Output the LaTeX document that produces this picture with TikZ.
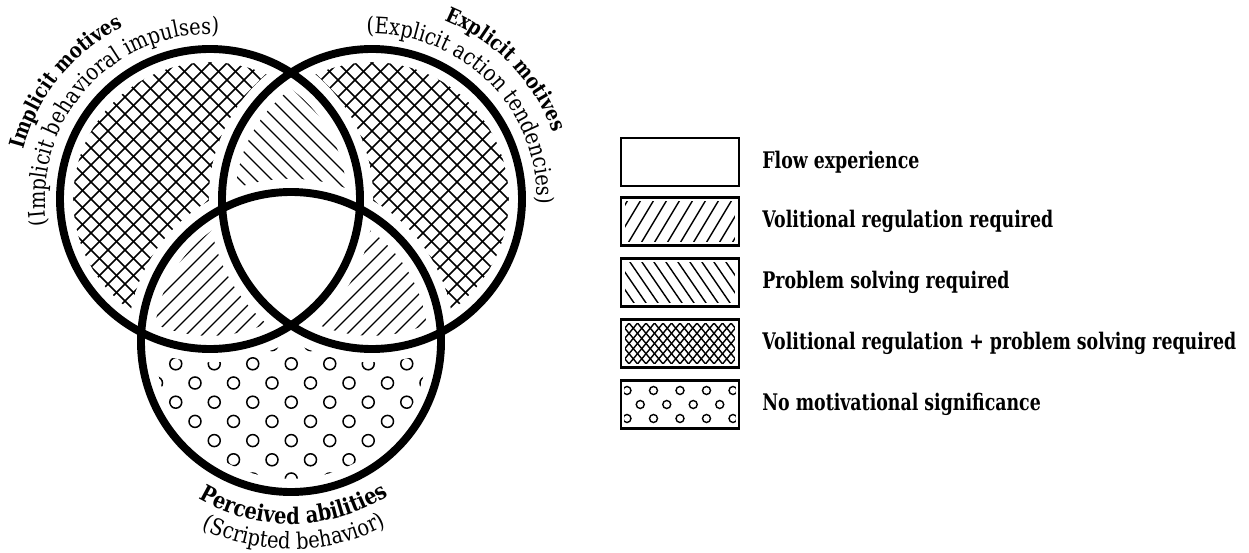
\documentclass[tikz,border=0pt]{standalone}
\usepackage{fontspec}
\setmainfont{DejaVu Serif}[FakeStretch=0.76]
\newfontfamily\arcfam{DejaVu Serif}[FakeStretch=0.85]
\usetikzlibrary{decorations.text}
\newcommand\lblfont{\fontsize{13pt}{15pt}\selectfont}
\newcommand\arclblfont{\arcfam\fontsize{13pt}{15pt}\selectfont}
\newcommand\arcsmallfont{\arcfam\fontsize{12pt}{14pt}\selectfont}
\begin{document}
\begin{tikzpicture}[x=0.02cm,y=0.02cm,
  vring/.style={line width=4.5pt},
  vinset/.style={white,line width=15pt},
  vhatch/.style={line width=0.95pt},
  vthin/.style={line width=0.8pt},
  vdot/.style={line width=0.85pt},
  legbox/.style={draw, line width=1.4pt, minimum width=2.36cm, minimum height=0.96cm, inner sep=0pt},
  legtext/.style={anchor=west, inner sep=0pt, font=\lblfont\bfseries},
  arctitle/.style={decorate, decoration={text along path, text align=center, text={|\arclblfont\bfseries|#1}}},
  arctitlesm/.style={decorate, decoration={text along path, text align=center, text={|\arcsmallfont\bfseries|#1}}},
  arcsub/.style={decorate, decoration={text along path, text align=center, text={|\arclblfont|#1}}}]

\fill[white] (0,0) rectangle (1249,552);
\useasboundingbox (0,0) rectangle (1249,552);

\coordinate (L) at (210,353);
\coordinate (R) at (372,353);
\coordinate (B) at (291,210);

% cross-hatch in left and right circles
\foreach \cc in {L,R}{
\begin{scope}
  \clip (\cc) circle [radius=150];
  \foreach \k in {-14,...,14}{
    \draw[vhatch] ([shift={(\k*17-220,-220)}]\cc) -- ++(440,440);
    \draw[vhatch] ([shift={(\k*17+220,-220)}]\cc) -- ++(-440,440);
  }
\end{scope}}

% top lens: problem solving (\)
\begin{scope}
  \clip (L) circle [radius=150];
  \clip (R) circle [radius=150];
  \fill[white] (0,0) rectangle (1249,552);
  \foreach \k in {-16,...,16}
    \draw[vthin] (291+\k*16-250, 353+250) -- ++(500,-500);
\end{scope}

% bottom circle: circles pattern
\begin{scope}
  \clip (B) circle [radius=150];
  \fill[white] (0,0) rectangle (1249,552);
  \foreach \k in {-3,...,7}{
    \pgfmathsetmacro\xo{195+mod(\k+10,2)*19.25}
    \pgfmathsetmacro\yy{552-383-19.2*\k}
    \foreach \m in {-3,...,9}
      \draw[vdot] (\xo+\m*38.5,\yy) circle [radius=6];
  }
\end{scope}

% bottom lenses: volitional regulation (/)
\foreach \cc in {L,R}{
\begin{scope}
  \clip (B) circle [radius=150];
  \clip (\cc) circle [radius=150];
  \fill[white] (0,0) rectangle (1249,552);
  \foreach \k in {-16,...,16}
    \draw[vthin] (291+\k*16-250, 210-250) -- ++(500,500);
\end{scope}}

% centre: flow
\begin{scope}
  \clip (B) circle [radius=150];
  \clip (L) circle [radius=150];
  \clip (R) circle [radius=150];
  \fill[white] (0,0) rectangle (1249,552);
\end{scope}

\foreach \cc in {L,R,B} \draw[vinset] (\cc) circle [radius=150];
\foreach \cc in {L,R,B} \draw[vring] (\cc) circle [radius=150];

% circle labels
\path[arcsub={(Implicit behavioral impulses)}] ([shift={(208:165)}]L) arc [start angle=208, end angle=68, radius=165];
\path[arctitlesm={Implicit motives}] ([shift={(211:193)}]L) arc [start angle=211, end angle=71, radius=193];
\path[arcsub={(Explicit action tendencies)}] ([shift={(115:165)}]R) arc [start angle=115, end angle=-25, radius=165];
\path[arctitlesm={Explicit motives}] ([shift={(114:193)}]R) arc [start angle=114, end angle=-26, radius=193];
\path[arctitle={Perceived abilities}] ([shift={(-149:182)}]B) arc [start angle=-149, end angle=-29, radius=182];
\path[arcsub={(Scripted behavior)}] ([shift={(-149:207)}]B) arc [start angle=-149, end angle=-29, radius=207];

% legend
\node[legbox] (lb1) at (680,390) {};
\node[legbox, path picture={
  \clip ([shift={(4,4)}]path picture bounding box.south west) rectangle ([shift={(-4,-4)}]path picture bounding box.north east);
  \foreach \k in {-7,...,7}
    \draw[vthin] ([shift={(\k*13-21,-35)}]path picture bounding box.center) -- ++(42,70);
}] (lb2) at (680,330.5) {};
\node[legbox, path picture={
  \clip ([shift={(4,4)}]path picture bounding box.south west) rectangle ([shift={(-4,-4)}]path picture bounding box.north east);
  \foreach \k in {-7,...,7}
    \draw[vthin] ([shift={(\k*12-24,35)}]path picture bounding box.center) -- ++(48,-70);
}] (lb3) at (680,269.5) {};
\node[legbox, path picture={
  \clip ([shift={(4,4)}]path picture bounding box.south west) rectangle ([shift={(-4,-4)}]path picture bounding box.north east);
  \foreach \k in {-12,...,12}{
    \draw[vthin] ([shift={(\k*8.5-25,-30)}]path picture bounding box.center) -- ++(50,60);
    \draw[vthin] ([shift={(\k*8.5+25,-30)}]path picture bounding box.center) -- ++(-50,60);
  }
}] (lb4) at (680,208.5) {};
\node[legbox, path picture={
  \clip ([shift={(3,3)}]path picture bounding box.south west) rectangle ([shift={(-3,-3)}]path picture bounding box.north east);
  \foreach \dx in {-53,-26.5,0,26.5,53}{
    \draw[vthin] ([shift={(\dx,14)}]path picture bounding box.center) circle [radius=4];
    \draw[vthin] ([shift={(\dx,-14)}]path picture bounding box.center) circle [radius=4];
  }
  \foreach \dx in {-39.75,-13.25,13.25,39.75}
    \draw[vthin] ([shift={(\dx,0)}]path picture bounding box.center) circle [radius=4];
}] (lb5) at (680,147.5) {};

\node[legtext] (lt1) at (762,390) {Flow experience};
\node[legtext] (lt2) at (762,330.5) {Volitional regulation required};
\node[legtext] (lt3) at (762,269.5) {Problem solving required};
\node[legtext] (lt4) at (762,208.5) {Volitional regulation + problem solving required};
\node[legtext] (lt5) at (762,147.5) {No motivational significance};
\end{tikzpicture}
\end{document}
